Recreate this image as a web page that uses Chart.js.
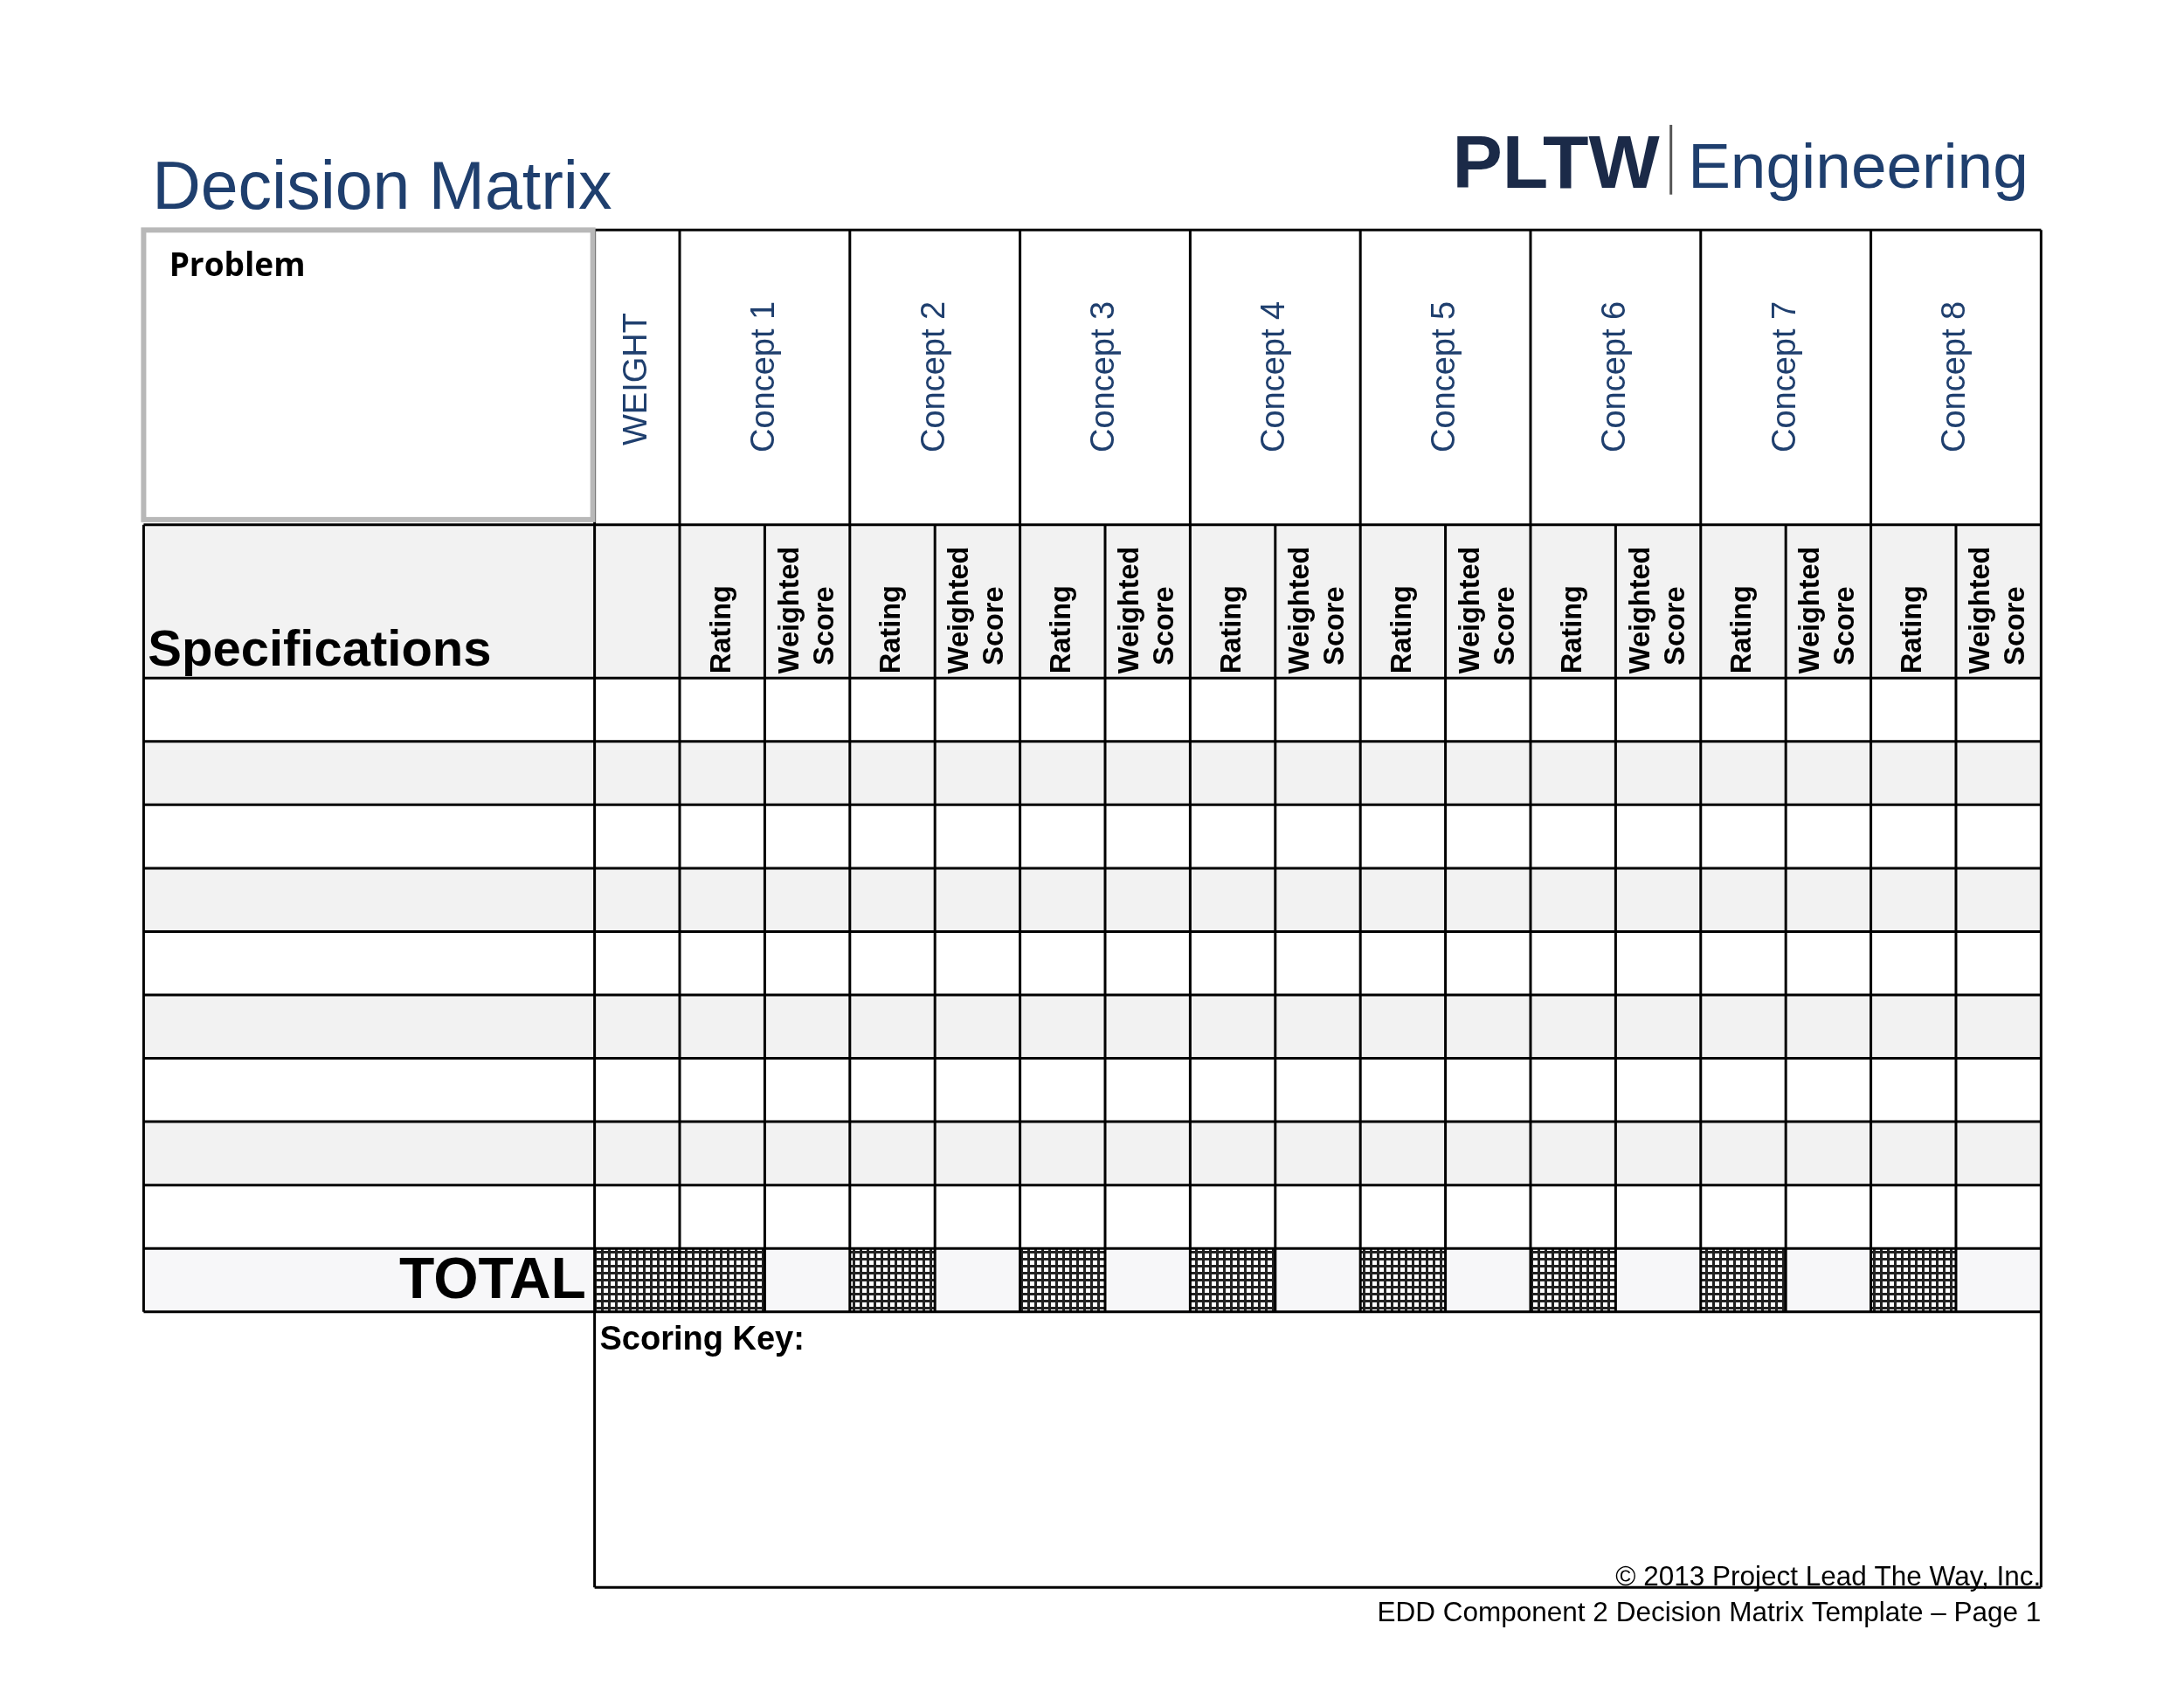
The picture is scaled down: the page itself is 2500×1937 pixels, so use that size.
<!DOCTYPE html>
<html><head><meta charset="utf-8">
<script src="https://cdn.jsdelivr.net/npm/chart.js@4"></script>
<style>html,body{margin:0;padding:0;background:#fff}#wrap{width:2500px;height:1937px}</style>
</head><body><div id="wrap"><canvas id="c"></canvas></div>
<script>
// table content
const concepts = ['Concept 1','Concept 2','Concept 3','Concept 4','Concept 5','Concept 6','Concept 7','Concept 8'];
const subHeaders = ['Rating', 'Weighted|Score'];
const specRows = 9;
const shadedRows = [1, 3, 5, 7];
const hatchedCols = [0, 1, 3, 5, 7, 9, 11, 13, 15]; // weight col + rating cols (col index 0 = weight)
const footerLines = ['\u00A9 2013 Project Lead The Way, Inc.', 'EDD Component 2 Decision Matrix Template \u2013 Page 1'];

// grid in unit space: x 0 = weight col left, 1 unit per sub column; spec col from -5.3
const specLeft = -5.3, tableRight = 17;
const headTop = -7.07, subHeadTop = -2.42, keyBottom = 14.35;

const NAVY = '#1f3f6e';
function hatch(ctx) {
  const p = document.createElement('canvas'); p.width = 8; p.height = 8;
  const g = p.getContext('2d');
  g.fillStyle = '#fff'; g.fillRect(0, 0, 8, 8);
  g.fillStyle = '#222'; g.fillRect(0, 0, 8, 3); g.fillRect(0, 0, 3, 8);
  return ctx.createPattern(p, 'repeat');
}

const matrix = {
  id: 'matrix',
  afterDraw(chart) {
    const ctx = chart.ctx, xs = chart.scales.x, ys = chart.scales.y;
    const X = v => xs.getPixelForValue(v), Y = v => ys.getPixelForValue(v);
    const line = (x1, y1, x2, y2, w, c) => {
      ctx.beginPath(); ctx.lineWidth = w || 3; ctx.strokeStyle = c || '#000';
      ctx.moveTo(X(x1), Y(y1)); ctx.lineTo(X(x2), Y(y2)); ctx.stroke();
    };
    ctx.save();
    // fills
    ctx.fillStyle = '#f2f2f2';
    ctx.fillRect(X(specLeft), Y(subHeadTop), X(tableRight) - X(specLeft), Y(0) - Y(subHeadTop));
    shadedRows.forEach(r => ctx.fillRect(X(specLeft), Y(r), X(tableRight) - X(specLeft), Y(r + 1) - Y(r)));
    ctx.fillStyle = '#f7f7f9';
    ctx.fillRect(X(specLeft), Y(specRows), X(tableRight) - X(specLeft), Y(specRows + 1) - Y(specRows));
    ctx.fillStyle = hatch(ctx);
    hatchedCols.forEach(c => ctx.fillRect(X(c), Y(specRows), X(c + 1) - X(c), Y(specRows + 1) - Y(specRows)));

    // horizontal lines
    line(0, headTop, tableRight, headTop);
    line(specLeft, subHeadTop, tableRight, subHeadTop);
    for (let r = 0; r <= specRows + 1; r++) line(specLeft, r, tableRight, r);
    line(0, keyBottom, tableRight, keyBottom);
    // vertical lines
    line(specLeft, subHeadTop, specLeft, specRows + 1);
    line(0, headTop, 0, keyBottom);
    line(tableRight, headTop, tableRight, keyBottom);
    for (let c = 1; c < tableRight; c++) line(c, c % 2 === 1 ? headTop : subHeadTop, c, specRows + 1);
    // problem box
    ctx.lineWidth = 6; ctx.strokeStyle = '#b8b8b8';
    ctx.strokeRect(X(specLeft), Y(headTop), X(-0.02) - X(specLeft), Y(-2.5) - Y(headTop));

    // rotated headers
    const vtext = (t, x, y, font, color) => {
      ctx.save(); ctx.translate(X(x), Y(y)); ctx.rotate(-Math.PI / 2);
      ctx.font = font; ctx.fillStyle = color; ctx.textAlign = 'left'; ctx.textBaseline = 'middle';
      ctx.fillText(t, 0, 0); ctx.restore();
    };
    const hf = '38px "Liberation Sans", Arial';
    vtext('WEIGHT', 0.5, -3.67, hf, NAVY);
    concepts.forEach((t, i) => vtext(t, 2 + i * 2, -3.56, hf, NAVY));
    const sf = 'bold 32.5px "Liberation Sans", Arial';
    for (let i = 0; i < concepts.length; i++) {
      vtext(subHeaders[0], 1.5 + i * 2, -0.07, sf, '#000');
      const [a, b] = subHeaders[1].split('|');
      vtext(a, 2.3 + i * 2, -0.07, sf, '#000');
      vtext(b, 2.71 + i * 2, -0.2, sf, '#000');
    }
    // texts
    ctx.fillStyle = '#000'; ctx.textBaseline = 'alphabetic';
    ctx.font = 'bold 37px "Open Sans", sans-serif'; ctx.textAlign = 'left';
    ctx.fillText('Problem', X(-5.0), Y(-6.35));
    ctx.font = 'bold 58px "Liberation Sans", Arial';
    ctx.fillText('Specifications', X(-5.25), Y(-0.2));
    ctx.font = 'bold 66px "Liberation Sans", Arial'; ctx.textAlign = 'right';
    ctx.fillText('TOTAL', X(-0.1), Y(9.78));
    ctx.font = 'bold 38px "Liberation Sans", Arial'; ctx.textAlign = 'left';
    ctx.fillText('Scoring Key:', X(0.06), Y(10.6));
    ctx.font = '31.5px "Liberation Sans", Arial'; ctx.textAlign = 'right';
    ctx.fillText(footerLines[0], X(17), Y(14.32));
    ctx.fillText(footerLines[1], X(17), Y(14.88));
    // title and logo
    ctx.textAlign = 'left'; ctx.fillStyle = NAVY;
    ctx.font = '77px "Liberation Sans", Arial';
    ctx.fillText('Decision Matrix', X(-5.2), Y(-7.4));
    ctx.fillStyle = '#1b2a48';
    ctx.font = 'bold 86px "Liberation Sans", Arial';
    ctx.fillText('PLTW', X(10.08), Y(-7.74));
    line(12.65, -8.73, 12.65, -7.63, 3, '#555');
    ctx.fillStyle = NAVY; ctx.font = '73px "Liberation Sans", Arial';
    ctx.fillText('Engineering', X(12.85), Y(-7.74));
    ctx.restore();
  }
};

new Chart(document.getElementById('c'), {
  type: 'scatter',
  data: { datasets: [{ data: [] }] },
  options: {
    responsive: true, maintainAspectRatio: false, animation: false,
    layout: { padding: 0 },
    plugins: { legend: { display: false }, tooltip: { enabled: false } },
    scales: {
      x: { type: 'linear', min: -6.988, max: 18.68, display: false },
      y: { type: 'linear', min: -10.70, max: 16.0, reverse: true, display: false }
    }
  },
  plugins: [matrix]
});
</script></body></html>
